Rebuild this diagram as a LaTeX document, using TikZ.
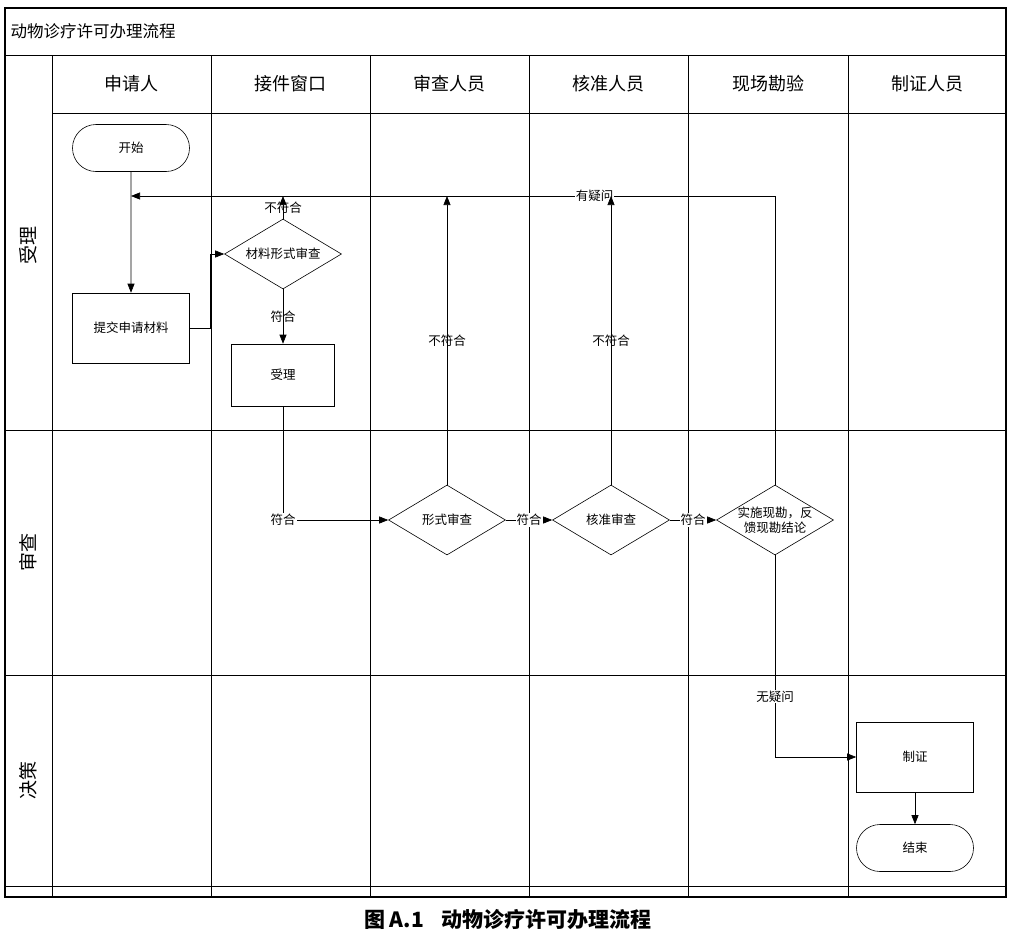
\documentclass[tikz,border=0pt]{standalone}
\usepackage{fontspec}
\setmainfont{Noto Sans CJK SC}
\usetikzlibrary{shapes.geometric,shapes.misc,arrows.meta,positioning}

\begin{document}
\begin{tikzpicture}[x=1pt,y=-1pt,
        grid/.style={black, line width=0.9pt},
        lanehead/.style={font=\fontsize{18}{20}\selectfont},
        rowhead/.style={rotate=90, font=\fontsize{19}{21}\selectfont},
        procbox/.style={draw, line width=0.6pt, minimum width=117pt, minimum height=70pt, inner sep=0pt, font=\fontsize{12.5}{14}\selectfont},
        termbox/.style={draw, rounded rectangle, line width=0.6pt, minimum width=117pt, minimum height=47pt, inner sep=0pt, font=\fontsize{12.5}{14}\selectfont},
        checkbox/.style={draw, diamond, line width=0.6pt, minimum width=117pt, minimum height=70pt, inner sep=0pt},
        checktext/.style={font=\fontsize{12.5}{15}\selectfont, align=center},
        arr/.style={line width=0.6pt, -{Triangle[length=9pt,width=7pt]}},
        tag/.style={fill=white, inner sep=1pt, font=\fontsize{12.5}{14}\selectfont},
        vtag/.style={inner sep=1pt, font=\fontsize{12.5}{14}\selectfont}]
    \useasboundingbox (0,0) rectangle (1024,938);
    % The frame and the lanes.
        \draw[grid, line width=1.2pt] (5,8) rectangle (1006,897);
        \draw[grid] (5,55) -- (1006,55);
        \draw[grid] (52,113) -- (1006,113);
        \draw[grid] (5,430) -- (1006,430);
        \draw[grid] (5,675) -- (1006,675);
        \draw[grid] (5,886) -- (1006,886);
        \draw[grid] (52,55) -- (52,897);
        \draw[grid] (211,55) -- (211,897);
        \draw[grid] (370,55) -- (370,897);
        \draw[grid] (529,55) -- (529,897);
        \draw[grid] (688,55) -- (688,897);
        \draw[grid] (848,55) -- (848,897);
    % Below nodes are the headings.
        \node[anchor=west, font=\fontsize{16.5}{18}\selectfont] (title) at (7,31) {动物诊疗许可办理流程};
        \node[lanehead] (applicant) at (131,84) {申请人};
        \node[lanehead] (window) at (290,84) {接件窗口};
        \node[lanehead] (reviewer) at (449,84) {审查人员};
        \node[lanehead] (approver) at (608,84) {核准人员};
        \node[lanehead] (survey) at (768,84) {现场勘验};
        \node[lanehead] (issuer) at (927,84) {制证人员};
        \node[rowhead] (accept) at (28,245) {受理};
        \node[rowhead] (review) at (28,552) {审查};
        \node[rowhead] (decide) at (28,780) {决策};
        \node[font=\fontsize{21}{24}\selectfont\bfseries] (caption) at (508,920) {图 A.1\hspace{18pt}动物诊疗许可办理流程};
    % The steps.
        \node[termbox] (start) at (131,148) {开始};
        \node[procbox] (submit) at (131,328) {提交申请材料};
        \node[checkbox, label={[checktext]center:材料形式审查}] (formcheck) at (283,254) {};
        \node[procbox, minimum width=103pt, minimum height=62pt] (take) at (283,375) {受理};
        \node[checkbox, label={[checktext]center:形式审查}] (check) at (447,520) {};
        \node[checkbox, label={[checktext]center:核准审查}] (approve) at (611,520) {};
        \node[checkbox, label={[checktext]center:实施现勘，反\\馈现勘结论}] (site) at (775,520) {};
        \node[procbox] (cert) at (915,757) {制证};
        \node[termbox] (finish) at (915,848) {结束};
        \coordinate (back) at (131,196);
    % The connectors.
        \draw[arr] (start) -- (submit);
        \draw[arr] (site.north) |- (back) node[tag, pos=0.64] {有疑问};
        \draw[arr] (submit.east) -- ++(20,0) |- (formcheck.west);
        \draw[arr] (formcheck.north) -- (formcheck.north |- back) node[vtag, midway] {不符合};
        \draw[arr] (formcheck.south) -- (take.north) node[vtag, midway] {符合};
        \draw[arr] (take.south) |- (check.west) node[tag, pos=0.5] {符合};
        \draw[arr] (check.north) -- (check.north |- back) node[vtag, midway] {不符合};
        \draw[arr] (check.east) -- (approve.west) node[tag, midway] {符合};
        \draw[arr] (approve.north) -- (approve.north |- back) node[vtag, midway] {不符合};
        \draw[arr] (approve.east) -- (site.west) node[tag, midway] {符合};
        \draw[arr] (site.south) |- (cert.west) node[tag, pos=0.35] {无疑问};
        \draw[arr] (cert) -- (finish);
\end{tikzpicture}
\end{document}
